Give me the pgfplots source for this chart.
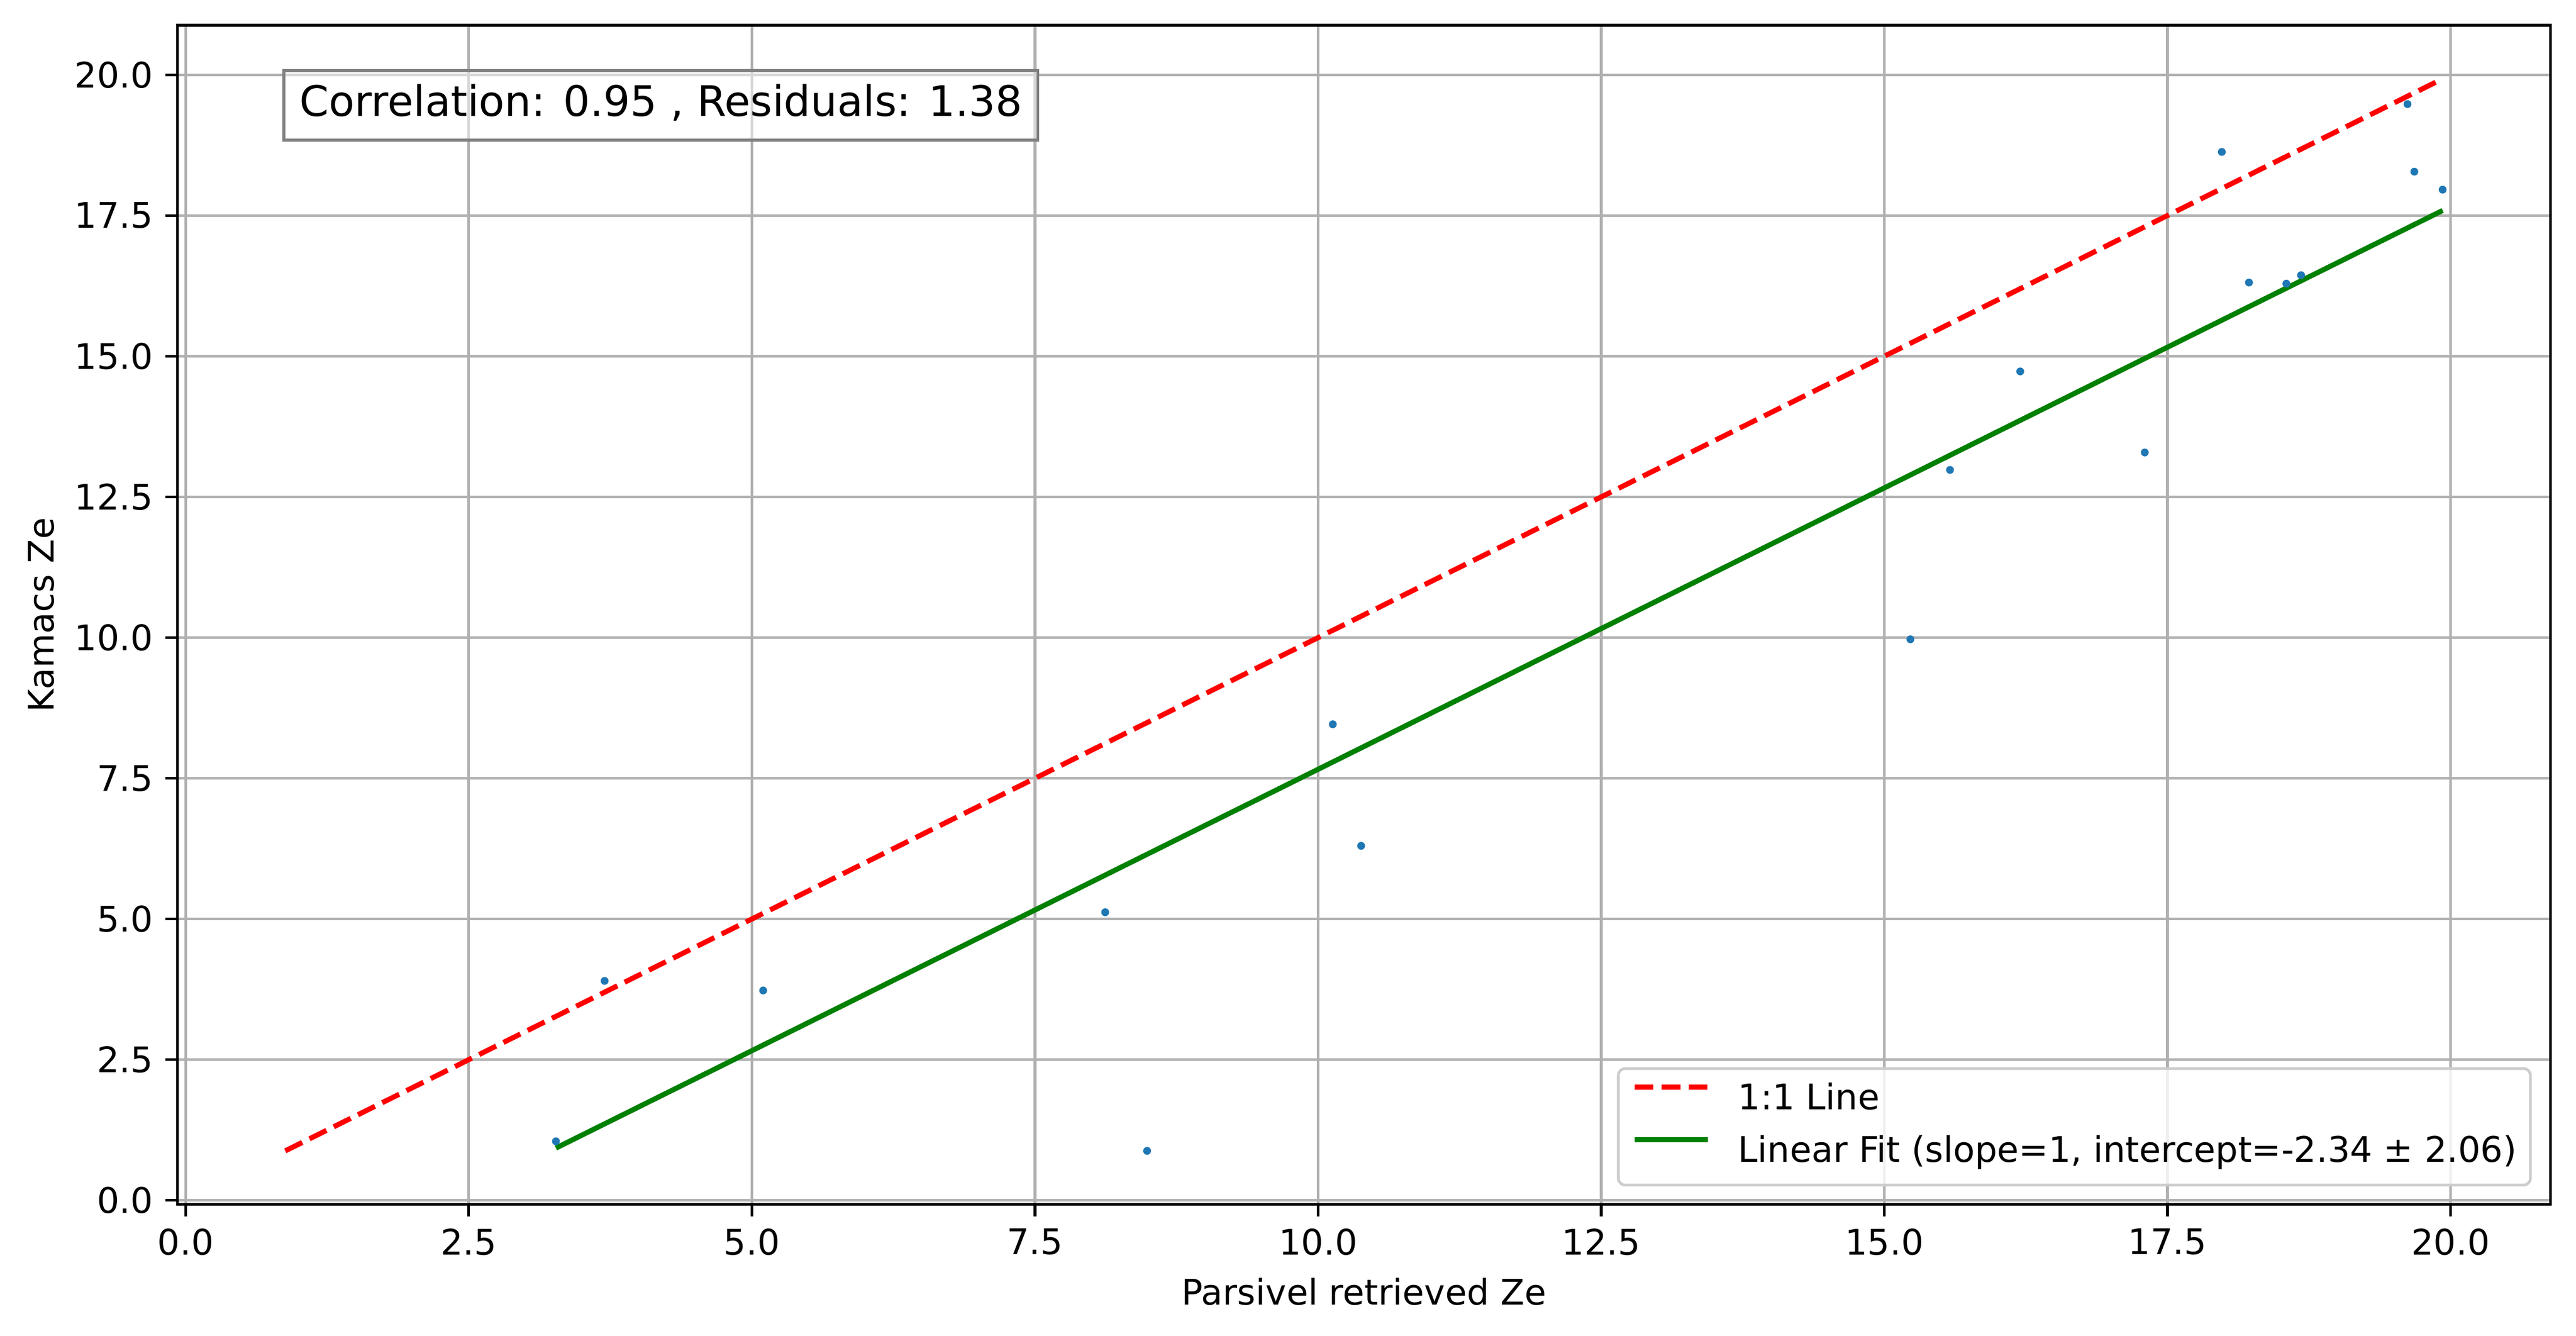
\documentclass[border=0pt]{standalone}
\usepackage{fontspec}
\setmainfont{DejaVu Sans}
\usepackage{pgfplots}
\pgfplotsset{compat=1.18}
\definecolor{mplblue}{HTML}{1F77B4}
\definecolor{mplgreen}{HTML}{008000}
\definecolor{gridgray}{HTML}{B0B0B0}
\begin{document}
\fontsize{10.35}{12}\selectfont
\begin{tikzpicture}
\begin{axis}[
  scale only axis,
  width=696.9pt, height=346.3pt,
  xmin=-0.0725, xmax=20.8825, ymin=-0.0725, ymax=20.8825,
  xtick={0,2.5,...,20}, ytick={0,2.5,...,20},
  /pgf/number format/assume math mode=true,
  /pgf/number format/fixed, /pgf/number format/fixed zerofill, /pgf/number format/precision=1,
  tick label style={font=\fontsize{10.35}{12}\selectfont},
  label style={font=\fontsize{10.35}{12}\selectfont},
  tick align=outside, tick pos=left,
  major tick length=3.5pt,
  every tick/.style={black, line width=0.8pt},
  axis line style={line width=0.8pt},
  grid=major,
  major grid style={color=gridgray, line width=0.8pt},
  xlabel={Parsivel retrieved Ze},
  ylabel={Kamacs Ze},
  every axis x label/.style={at={([yshift=-25.6pt]axis description cs:0.5,0)}, anchor=center},
  every axis y label/.style={at={([xshift=-40pt]axis description cs:0,0.5)}, rotate=90, anchor=center},
  legend cell align=left,
  legend style={at={([xshift=-5.5pt,yshift=5.3pt]axis description cs:1,0)}, anchor=south east,
    draw=black!20, line width=0.8pt, rounded corners=2pt, fill=white, fill opacity=0.8, text opacity=1,
    font=\fontsize{10.35}{12}\selectfont, row sep=5.2pt, column sep=8.2pt, inner xsep=4pt, inner ysep=4.3pt,
    nodes={inner sep=0pt, text height=7.8pt, text depth=2.4pt}},
  legend image code/.code={\draw[#1] (0pt,3.9pt) -- (21.5pt,3.9pt);},
]
\addplot[only marks, mark=*, mark size=0.95pt, mplblue, forget plot] coordinates {
(3.27,1.05) (3.70,3.90) (5.10,3.73) (8.12,5.12) (8.49,0.88)
(10.13,8.46) (10.38,6.30) (15.23,9.97) (15.58,12.98) (16.20,14.73)
(17.30,13.29) (17.98,18.63) (18.22,16.31) (18.55,16.29) (18.68,16.44)
(19.62,19.48) (19.68,18.28) (19.93,17.96)
};
\addplot[red, line width=1.5pt, dash pattern=on 5.55pt off 2.4pt] coordinates {(0.88,0.88) (19.93,19.93)};
\addlegendentry{1:1 Line}
\addplot[mplgreen, line width=1.5pt] coordinates {(3.27,0.93) (19.93,17.59)};
\addlegendentry{Linear Fit (slope=1, intercept=-2.34 ± 2.06)}
\node[draw=gray, fill=white, fill opacity=0.5, text opacity=1, draw opacity=1, anchor=north west,
  inner xsep=4.6pt, inner ysep=4.1pt, text height=9.3pt, text depth=2.9pt, line width=0.8pt,
  font=\fontsize{12.35}{14}\selectfont] at (rel axis cs:0.0443,0.9626) {Correlation: 0.95 , Residuals: 1.38};
\end{axis}
\pgfresetboundingbox
\path ([xshift=-52.1pt,yshift=-38.6pt]current axis.south west) rectangle ([xshift=7.5pt,yshift=7.4pt]current axis.north east);
\end{tikzpicture}
\end{document}
